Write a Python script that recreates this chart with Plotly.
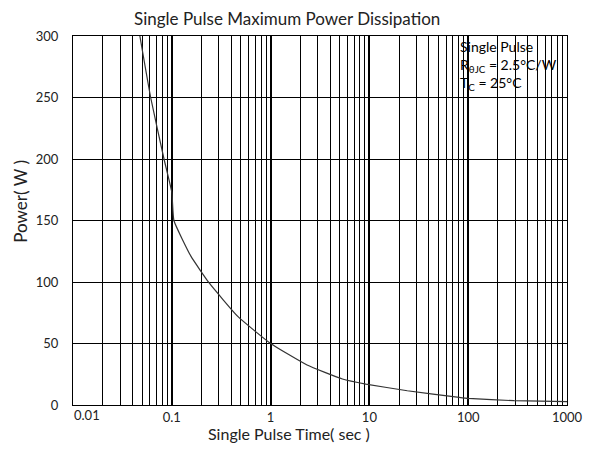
import plotly.graph_objects as go

# Data (single pulse time in s, power in W)
pulse_time = [0.0475, 0.0611, 0.0834, 0.1, 0.105, 0.156, 0.24, 0.468, 1.0, 2.34, 5.33, 9.2, 24.2, 81, 100, 290, 1000]
power_w = [300, 250, 200, 173, 150, 121, 99, 71.8, 50, 32.5, 21.1, 17, 11.6, 6.2, 5.4, 3.5, 2.7]

x_tickvals = [0.1, 1, 10, 100, 1000]
x_ticktext = ["0.1", "1", "10", "100", "1000"]
y_tickvals = [0, 50, 100, 150, 200, 250, 300]

FONT = "Lato, 'Open Sans', sans-serif"
TXT = "#222222"

fig = go.Figure()
fig.add_trace(go.Scatter(
    x=pulse_time, y=power_w, mode="lines",
    line=dict(color="#333333", width=1.2, shape="spline", smoothing=0.4),
    showlegend=False, hoverinfo="skip",
))

fig.update_layout(
    width=587, height=442,
    margin=dict(l=65, r=22, t=28, b=45),
    paper_bgcolor="white", plot_bgcolor="white",
    font=dict(family=FONT, size=13, color=TXT),
    showlegend=False,
    xaxis=dict(
        type="log", range=[-2, 3],
        tickvals=x_tickvals, ticktext=x_ticktext,
        showgrid=True, gridcolor="black", gridwidth=1.6,
        minor=dict(showgrid=True, gridcolor="black", gridwidth=1, dtick="D1"),
        showline=True, linecolor="black", linewidth=1.2, mirror=True,
        ticks="", ticklabelstandoff=0,
        tickfont=dict(family=FONT, size=13, color=TXT),
        zeroline=False,
    ),
    yaxis=dict(
        range=[0, 300], tickvals=y_tickvals,
        showgrid=True, gridcolor="black", gridwidth=1.4,
        showline=True, linecolor="black", linewidth=1.2, mirror=True,
        ticks="", ticklabelstandoff=11,
        tickfont=dict(family=FONT, size=13, color=TXT),
        zeroline=False,
    ),
    annotations=[
        dict(text="Single Pulse Maximum Power Dissipation", xref="paper", yref="paper",
             x=0.433, y=1.0, yshift=18, xanchor="center", yanchor="middle", showarrow=False,
             font=dict(family=FONT, size=17, color=TXT)),
        dict(text="Single Pulse Time( sec )", xref="paper", yref="paper",
             x=0.437, y=0, yshift=-28, xanchor="center", yanchor="middle", showarrow=False,
             font=dict(family=FONT, size=16, color=TXT)),
        dict(text="Power( W )", xref="paper", yref="paper",
             x=0, xshift=-52, y=0.551, textangle=-90, xanchor="center", yanchor="middle",
             showarrow=False, font=dict(family=FONT, size=17, color=TXT)),
        dict(text="0.01", xref="paper", yref="paper", x=0, xshift=-1, y=0, yshift=-10,
             xanchor="left", yanchor="middle", showarrow=False,
             font=dict(family=FONT, size=13, color=TXT)),
        dict(text="Single Pulse<br>R<sub>θJC</sub> = 2.5°C/W<br>T<sub>C</sub> = 25°C",
             xref="paper", yref="paper", x=0.78, y=1.0, yshift=0,
             xanchor="left", yanchor="top", align="left", showarrow=False,
             font=dict(family=FONT, size=14, color="black")),
    ],
)

fig.write_html("out.html")
